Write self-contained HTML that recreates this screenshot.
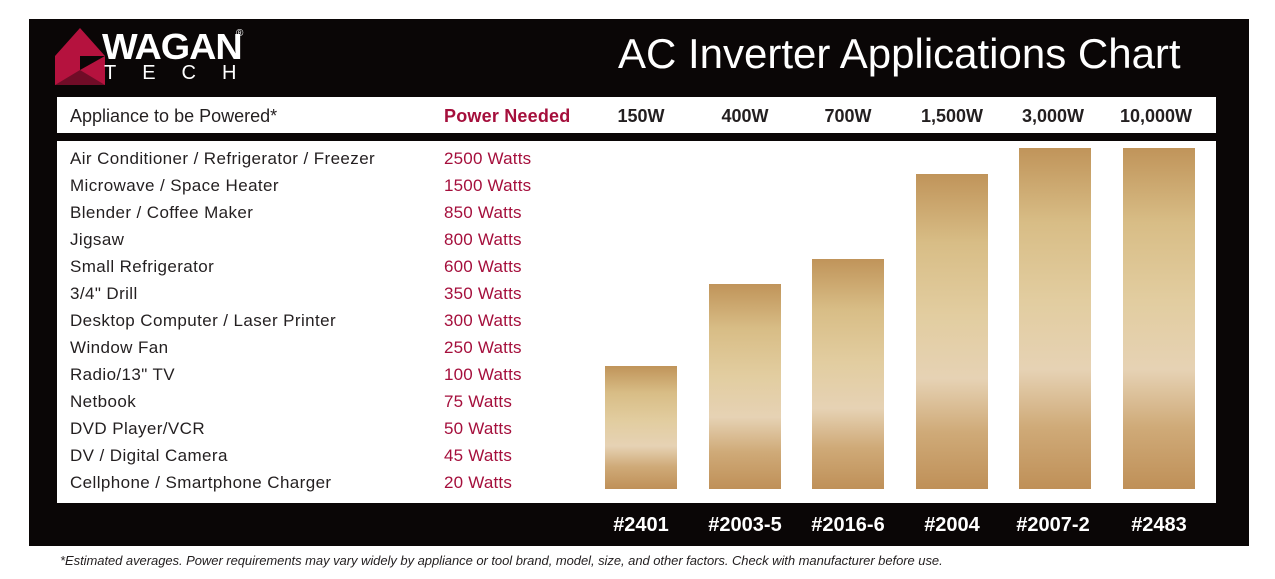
<!DOCTYPE html>
<html><head><style>
body{margin:0;width:1275px;height:579px;background:#fff;position:relative;font-family:"Liberation Sans",sans-serif;overflow:hidden}
.blk{position:absolute;left:29px;top:19px;width:1220px;height:527px;background:#0a0606}
.hdr{position:absolute;left:57px;top:97px;width:1159px;height:36px;background:#fff}
.bod{position:absolute;left:57px;top:141px;width:1159px;height:362px;background:#fff}
.t{position:absolute;white-space:nowrap}
.row{position:absolute;left:70px;font-size:17px;color:#231f20;letter-spacing:0.4px}
.w{position:absolute;left:444px;font-size:17px;color:#a50f3c;letter-spacing:0.2px}
.col{position:absolute;top:106px;width:100px;text-align:center;font-size:18px;font-weight:bold;color:#231f20;transform:translateX(-50%)}
.bar{position:absolute;width:72px;bottom:90px;background:linear-gradient(#c0945a 0%,#d8bd86 22%,#e2cda0 45%,#e6d2b4 65%,#cfaa78 82%,#bf9058 100%)}
.id{position:absolute;top:514px;width:110px;text-align:center;font-size:20px;font-weight:bold;color:#fff;transform:translateX(-50%)}
</style></head><body>
<div class="blk"></div>
<div class="hdr"></div><div class="bod"></div>
<svg style="position:absolute;left:55px;top:28px" width="50" height="58" viewBox="0 0 50 58">
<polygon points="25,0 50,28 50,57 0,57 0,28" fill="#b5123e"/>
<polygon points="25,28 50,28 25,42" fill="#0a0606"/>
<polygon points="0,57 25,42 50,57" fill="#0a0606" opacity="0.4"/>
</svg>
<div class="t" style="left:102px;top:26px;font-size:36px;font-weight:bold;color:#fff;letter-spacing:-1px;transform:scaleX(1.05);transform-origin:left">WAGAN</div>
<div class="t" style="left:236px;top:28px;font-size:10px;color:#fff">®</div>
<div class="t" style="left:104px;top:62px;font-size:20px;color:#fff;letter-spacing:26px">TECH</div>
<div class="t" style="left:618px;top:30px;font-size:42px;color:#fff">AC Inverter Applications Chart</div>
<div class="t" style="left:70px;top:106px;font-size:18px;color:#231f20">Appliance to be Powered*</div>
<div class="t" style="left:444px;top:106px;font-size:18px;font-weight:bold;color:#a50f3c;letter-spacing:0.2px">Power Needed</div>
<div class="col" style="left:641px">150W</div>
<div class="col" style="left:745px">400W</div>
<div class="col" style="left:848px">700W</div>
<div class="col" style="left:952px">1,500W</div>
<div class="col" style="left:1053px">3,000W</div>
<div class="col" style="left:1156px">10,000W</div>
<div class="t row" style="top:149px">Air Conditioner / Refrigerator / Freezer</div><div class="t w" style="top:149px">2500 Watts</div>
<div class="t row" style="top:176px">Microwave / Space Heater</div><div class="t w" style="top:176px">1500 Watts</div>
<div class="t row" style="top:203px">Blender / Coffee Maker</div><div class="t w" style="top:203px">850 Watts</div>
<div class="t row" style="top:230px">Jigsaw</div><div class="t w" style="top:230px">800 Watts</div>
<div class="t row" style="top:257px">Small Refrigerator</div><div class="t w" style="top:257px">600 Watts</div>
<div class="t row" style="top:284px">3/4" Drill</div><div class="t w" style="top:284px">350 Watts</div>
<div class="t row" style="top:311px">Desktop Computer / Laser Printer</div><div class="t w" style="top:311px">300 Watts</div>
<div class="t row" style="top:338px">Window Fan</div><div class="t w" style="top:338px">250 Watts</div>
<div class="t row" style="top:365px">Radio/13" TV</div><div class="t w" style="top:365px">100 Watts</div>
<div class="t row" style="top:392px">Netbook</div><div class="t w" style="top:392px">75 Watts</div>
<div class="t row" style="top:419px">DVD Player/VCR</div><div class="t w" style="top:419px">50 Watts</div>
<div class="t row" style="top:446px">DV / Digital Camera</div><div class="t w" style="top:446px">45 Watts</div>
<div class="t row" style="top:473px">Cellphone / Smartphone Charger</div><div class="t w" style="top:473px">20 Watts</div>
<div class="bar" style="left:605px;top:366px"></div>
<div class="bar" style="left:709px;top:284px"></div>
<div class="bar" style="left:812px;top:259px"></div>
<div class="bar" style="left:916px;top:174px"></div>
<div class="bar" style="left:1019px;top:148px"></div>
<div class="bar" style="left:1123px;top:148px"></div>
<div class="id" style="left:641px">#2401</div>
<div class="id" style="left:745px">#2003-5</div>
<div class="id" style="left:848px">#2016-6</div>
<div class="id" style="left:952px">#2004</div>
<div class="id" style="left:1053px">#2007-2</div>
<div class="id" style="left:1159px">#2483</div>
<div class="t" style="left:60px;top:553px;font-size:13px;font-style:italic;color:#231f20;letter-spacing:-0.05px">*Estimated averages. Power requirements may vary widely by appliance or tool brand, model, size, and other factors. Check with manufacturer before use.</div>
</body></html>
